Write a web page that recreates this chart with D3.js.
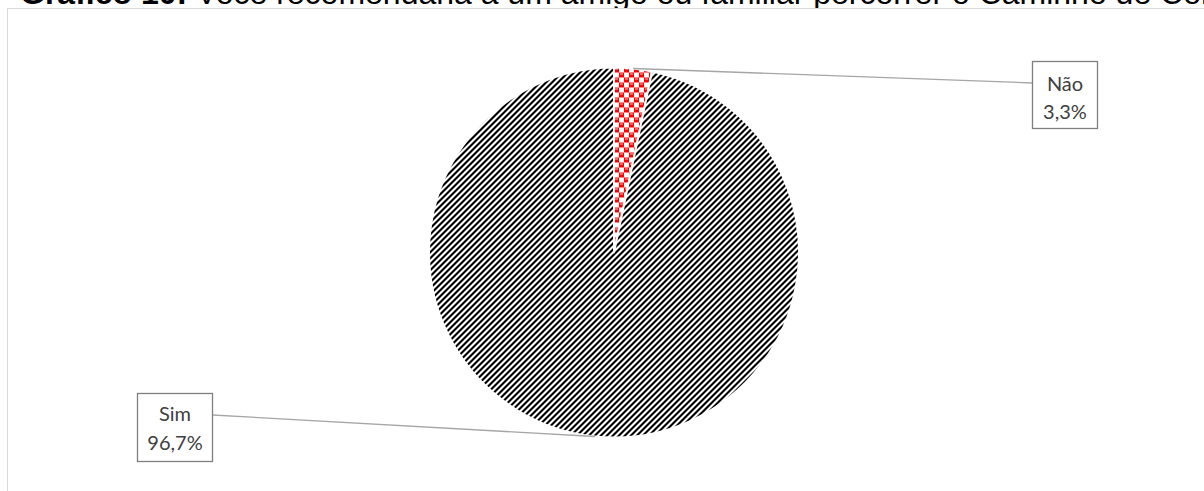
<!DOCTYPE html>
<html>
<head>
<meta charset="utf-8">
<script src="https://cdn.jsdelivr.net/npm/d3@7"></script>
<style>
  html, body { margin: 0; padding: 0; background: #ffffff; }
  svg { display: block; }
</style>
</head>
<body>
<svg id="chart" width="1204" height="491"></svg>
<script>
// Survey answers, in drawing order (clockwise from 12 o'clock)
const categories = ["Não", "Sim"];
const values = [3.3, 96.7];
const valueLabels = ["3,3%", "96,7%"];
const titleBold = "Gráfico 10:";
const titleRest = " Você recomendaria a um amigo ou familiar percorrer o Caminho de Cora Coralina?";

const svg = d3.select("#chart");
const W = 1204, H = 491;

// ---- fill patterns ----
const defs = svg.append("defs");

// wide upward diagonal stripes
const SP = 6;
const stripe = defs.append("pattern")
  .attr("id", "stripe").attr("patternUnits", "userSpaceOnUse")
  .attr("width", SP).attr("height", SP);
stripe.append("rect").attr("width", SP).attr("height", SP).attr("fill", "#ffffff");
for (let y = 0; y < SP; y++) {
  for (let x = 0; x < SP; x++) {
    const k = (x + y) % SP;
    if (k < 3) {
      stripe.append("rect").attr("x", x).attr("y", y).attr("width", 1).attr("height", 1)
        .attr("fill", "#000000");
    }
  }
}

// red checker / sphere pattern
const CP = 10, C = CP / 2;
const sphere = defs.append("pattern")
  .attr("id", "sphere").attr("patternUnits", "userSpaceOnUse")
  .attr("width", CP).attr("height", CP);
sphere.append("rect").attr("width", CP).attr("height", CP).attr("fill", "#ff0000");
sphere.append("rect").attr("x", 0).attr("y", 0).attr("width", C).attr("height", C).attr("fill", "#ffffff");
sphere.append("rect").attr("x", C).attr("y", C).attr("width", C).attr("height", C).attr("fill", "#ffffff");
sphere.append("rect").attr("x", C + 1).attr("y", 1).attr("width", 3).attr("height", 1).attr("fill", "#ffc0c0");
sphere.append("rect").attr("x", 1).attr("y", C + 1).attr("width", 3).attr("height", 1).attr("fill", "#ffc0c0");

const fills = { "Não": "url(#sphere)", "Sim": "url(#stripe)" };

// ---- title (the chart area sits on top of its lower part) ----
const title = svg.append("text")
  .attr("x", 20).attr("y", 4)
  .attr("font-family", "Liberation Sans, Arial, sans-serif")
  .attr("font-size", 32).attr("fill", "#000000");
title.append("tspan").attr("font-weight", "bold").text(titleBold);
title.append("tspan").text(titleRest);

// ---- chart frame ----
svg.append("rect")
  .attr("x", 7.5).attr("y", 8.5)
  .attr("width", W).attr("height", H)
  .attr("fill", "#ffffff").attr("stroke", "#d9d9d9").attr("stroke-width", 1);

// ---- pie ----
const cx = 614, cy = 252.5, r = 185;
const data = categories.map((c, i) => ({ cat: c, value: values[i], label: valueLabels[i] }));
const pie = d3.pie().sort(null).value(d => d.value);
const arc = d3.arc().innerRadius(0).outerRadius(r);
const arcs = pie(data);

const g = svg.append("g").attr("transform", `translate(${cx},${cy})`);
g.selectAll("path.slice")
  .data(arcs)
  .join("path")
  .attr("class", "slice")
  .attr("d", arc)
  .attr("fill", d => fills[d.data.cat])
  .attr("stroke", "#ffffff")
  .attr("stroke-width", 2)
  .attr("stroke-linejoin", "round");

// ---- data labels with leader lines ----
const boxes = {
  "Não": { x: 1032.5, y: 61.5, w: 65, h: 67, anchorX: 1032.5, anchorY: 83, base1: 91, base2: 119 },
  "Sim": { x: 137.5, y: 393.5, w: 75, h: 68, anchorX: 212.5, anchorY: 415, base1: 421, base2: 450 }
};

const labelFont = "Lato, 'Open Sans', Calibri, sans-serif";

arcs.forEach(a => {
  const b = boxes[a.data.cat];
  const mid = (a.startAngle + a.endAngle) / 2;
  const px = cx + Math.sin(mid) * r;
  const py = cy - Math.cos(mid) * r;

  svg.append("line")
    .attr("x1", b.anchorX).attr("y1", b.anchorY)
    .attr("x2", px).attr("y2", py)
    .attr("stroke", "#a6a6a6").attr("stroke-width", 1.3);

  svg.append("rect")
    .attr("x", b.x).attr("y", b.y).attr("width", b.w).attr("height", b.h)
    .attr("fill", "#ffffff").attr("stroke", "#7f7f7f").attr("stroke-width", 1.3);

  const t = svg.append("text")
    .attr("text-anchor", "middle")
    .attr("font-family", labelFont)
    .attr("font-size", 20)
    .attr("fill", "#404040");
  t.append("tspan").attr("x", b.x + b.w / 2).attr("y", b.base1).text(a.data.cat);
  t.append("tspan").attr("x", b.x + b.w / 2).attr("y", b.base2).text(a.data.label);
});
</script>
</body>
</html>
